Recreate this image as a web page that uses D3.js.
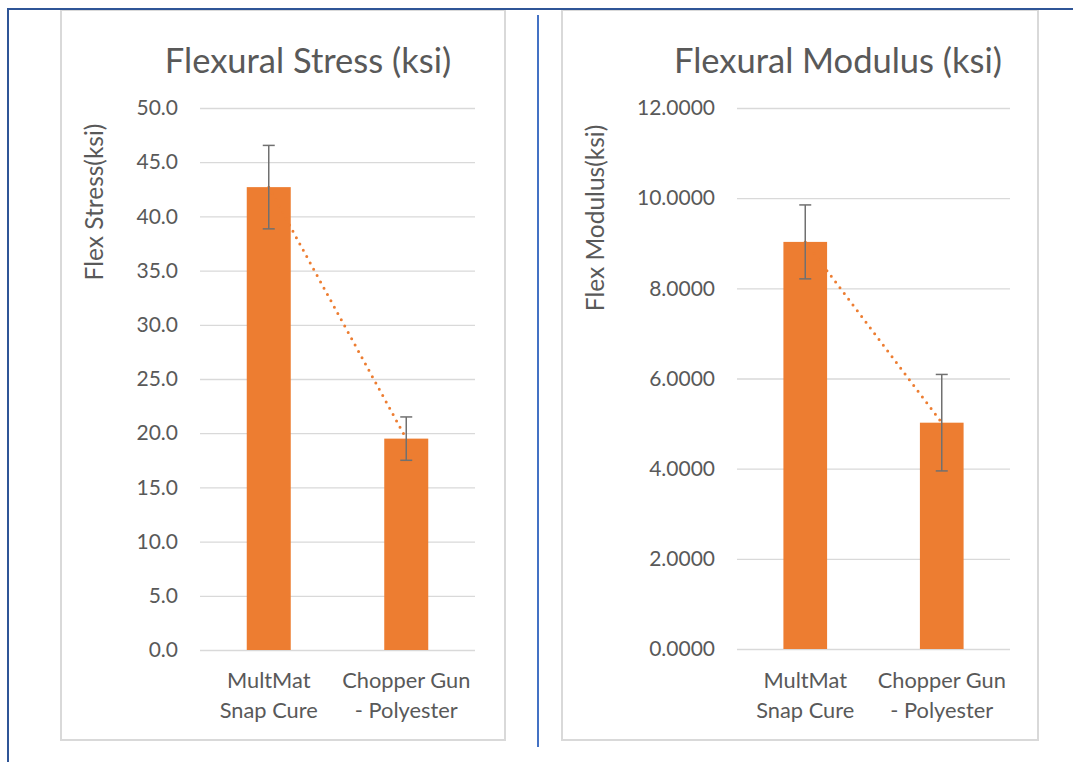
<!DOCTYPE html>
<html>
<head>
<meta charset="utf-8">
<script src="https://cdn.jsdelivr.net/npm/d3@7"></script>
<style>
  body { margin: 0; background: #ffffff; }
  text { font-family: Lato, "Open Sans", sans-serif; fill: #595959; }
</style>
</head>
<body>
<script>
// data
const categories = [["MultMat", "Snap Cure"], ["Chopper Gun", "- Polyester"]];
const stressValues = [42.7, 19.5];
const stressErrors = [3.85, 2.0];
const stressTicks = [0, 5, 10, 15, 20, 25, 30, 35, 40, 45, 50];
const modulusValues = [9.03, 5.02];
const modulusErrors = [0.82, 1.07];
const modulusTicks = [0, 2, 4, 6, 8, 10, 12];

const W = 1073, H = 762;
const orange = "#ed7d31";

const svg = d3.select("body").append("svg")
  .attr("width", W).attr("height", H);

function drawPanel(p) {
  // panel frame
  svg.append("rect")
    .attr("x", p.left).attr("y", 10)
    .attr("width", p.right - p.left).attr("height", 740 - 10)
    .attr("fill", "#fff").attr("stroke", "#d9d9d9").attr("stroke-width", 2);

  const g = svg.append("g");

  const y = d3.scaleLinear().domain([0, d3.max(p.ticks)]).range([p.y0, p.y1]);
  const x = d3.scaleBand().domain(d3.range(p.values.length)).range([p.x0, p.x1]);
  const bw = x.bandwidth() * 0.32;
  const cx = i => x(i) + x.bandwidth() / 2;

  // gridlines + tick labels
  const yAxis = d3.axisLeft(y).tickValues(p.ticks)
    .tickSize(-(p.x1 - p.x0)).tickPadding(22)
    .tickFormat(d3.format(p.fmt));
  const ag = g.append("g").attr("transform", `translate(${p.x0},0)`).call(yAxis);
  ag.select(".domain").remove();
  ag.selectAll(".tick line").attr("stroke", "#d9d9d9").attr("stroke-width", 1.3);
  ag.selectAll(".tick text").style("font-size", "21px").attr("fill", "#595959")
    .attr("font-family", "Lato");

  // bars
  g.selectAll(".bar").data(p.values).enter().append("rect")
    .attr("x", (d, i) => cx(i) - bw / 2)
    .attr("y", d => y(d))
    .attr("width", bw)
    .attr("height", d => y(0) - y(d))
    .attr("fill", orange);

  // linear trendline (dotted)
  g.append("path")
    .datum(p.values)
    .attr("fill", "none")
    .attr("stroke", orange)
    .attr("stroke-width", 3)
    .attr("stroke-linecap", "round")
    .attr("stroke-dasharray", "0,7.2")
    .attr("d", d3.line().x((d, i) => cx(i)).y(d => y(d)));

  // error bars
  p.values.forEach((v, i) => {
    const e = p.errors[i];
    const eg = g.append("g").attr("stroke", "#707070").attr("stroke-width", 1.5);
    eg.append("line").attr("x1", cx(i)).attr("x2", cx(i)).attr("y1", y(v + e)).attr("y2", y(v - e));
    [v + e, v - e].forEach(t => {
      eg.append("line").attr("x1", cx(i) - 6).attr("x2", cx(i) + 6).attr("y1", y(t)).attr("y2", y(t));
    });
  });

  // category labels
  categories.forEach((lines, i) => {
    const t = g.append("text").attr("text-anchor", "middle").style("font-size", "21.8px");
    lines.forEach((s, k) => {
      t.append("tspan").attr("x", cx(i)).attr("y", 688 + k * 30).text(s);
    });
  });

  // title
  g.append("text")
    .attr("x", p.titleX).attr("y", 73)
    .attr("text-anchor", "middle")
    .style("font-size", "34.5px")
    .text(p.title);

  // y axis title
  g.append("text")
    .attr("transform", `translate(${p.ytX},${p.ytY}) rotate(-90)`)
    .attr("text-anchor", "middle")
    .style("font-size", "24.5px")
    .text(p.yTitle);
}

drawPanel({
  left: 61, right: 505,
  x0: 200, x1: 475, y0: 650, y1: 108,
  values: stressValues, errors: stressErrors, ticks: stressTicks, fmt: ".1f",
  title: "Flexural Stress (ksi)", titleX: 308,
  yTitle: "Flex Stress(ksi)", ytX: 103, ytY: 202
});

drawPanel({
  left: 562, right: 1038,
  x0: 737, x1: 1010, y0: 649, y1: 108,
  values: modulusValues, errors: modulusErrors, ticks: modulusTicks, fmt: ".4f",
  title: "Flexural Modulus (ksi)", titleX: 838,
  yTitle: "Flex Modulus(ksi)", ytX: 604, ytY: 218
});

// blue frame lines
svg.append("line").attr("x1", 8).attr("x2", W).attr("y1", 9).attr("y2", 9)
  .attr("stroke", "#2f5597").attr("stroke-width", 2);
svg.append("line").attr("x1", 8).attr("x2", 8).attr("y1", 8).attr("y2", H)
  .attr("stroke", "#2f5597").attr("stroke-width", 2);
svg.append("line").attr("x1", 538).attr("x2", 538).attr("y1", 15).attr("y2", 747)
  .attr("stroke", "#4472c4").attr("stroke-width", 2);
</script>
</body>
</html>
